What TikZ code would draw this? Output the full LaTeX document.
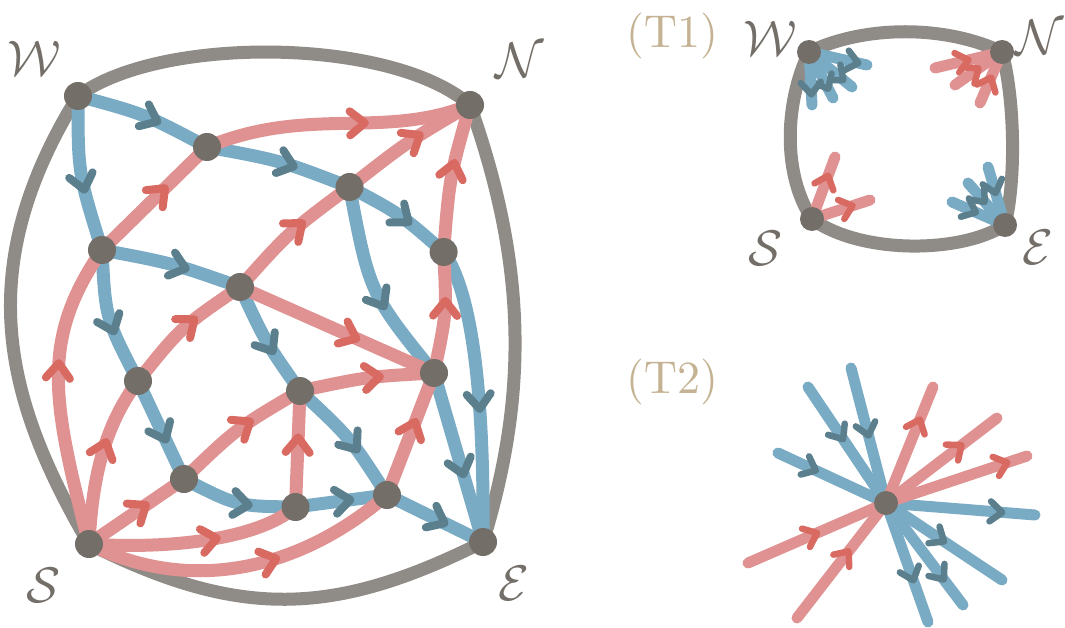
\RequirePackage{fix-cm}
\documentclass[tikz,border=0pt]{standalone}
\usetikzlibrary{decorations.markings}
\definecolor{bluec}{HTML}{7AABC5}
\definecolor{bluedk}{HTML}{5B7F8C}
\definecolor{redc}{HTML}{E09292}
\definecolor{reddk}{HTML}{D86A62}
\definecolor{bndc}{HTML}{8F8B86}
\definecolor{nodec}{HTML}{736E68}
\definecolor{tanc}{HTML}{C4B292}
\font\Tfont=cmr10 at 46pt
\pgfdeclarelayer{edges}
\pgfsetlayers{edges,main}
\tikzset{
  vtx/.style={circle, fill=nodec, draw=none, inner sep=0pt, minimum size=28pt},
  svtx/.style={vtx, minimum size=24pt},
  bnd/.style={draw=bndc, line width=13pt},
  lbl/.style={text=nodec, inner sep=0pt, font=\fontsize{50}{50}\selectfont},
  tlbl/.style={text=tanc, inner sep=0pt, font=\Tfont},
  bedge/.style={draw=bluec, line width=13pt, line cap=round,
    postaction={decorate, decoration={markings, mark=at position #1 with {\draw[bluedk, line width=8pt, line cap=round, line join=round] (-15,12) -- (0,0) -- (-15,-12);}}}},
  bedge/.default=0.6,
  redge/.style={draw=redc, line width=13pt, line cap=round,
    postaction={decorate, decoration={markings, mark=at position #1 with {\draw[reddk, line width=8pt, line cap=round, line join=round] (-15,12) -- (0,0) -- (-15,-12);}}}},
  redge/.default=0.6,
  sbedge/.style={draw=bluec, line width=11pt, line cap=round,
    postaction={decorate, decoration={markings, mark=at position #1 with {\draw[bluedk, line width=6.5pt, line cap=round, line join=round] (-12,10) -- (0,0) -- (-12,-10);}}}},
  sbedge/.default=0.6,
  sredge/.style={draw=redc, line width=11pt, line cap=round,
    postaction={decorate, decoration={markings, mark=at position #1 with {\draw[reddk, line width=6.5pt, line cap=round, line join=round] (-12,10) -- (0,0) -- (-12,-10);}}}},
  sredge/.default=0.6,
}
\begin{document}
\begin{tikzpicture}[x=1pt,y=-1pt]
\useasboundingbox (0,0) rectangle (1065,628);
% ---------- main graph: vertices ----------
\node[vtx] (W) at (78,96) {};
\node[vtx] (N) at (470,105) {};
\node[vtx] (S) at (89,544) {};
\node[vtx] (E) at (483,542) {};
\node[vtx] (a) at (207,147) {};
\node[vtx] (b) at (349.5,187) {};
\node[vtx] (c) at (102,250) {};
\node[vtx] (d) at (443.6,252) {};
\node[vtx] (e) at (240,287) {};
\node[vtx] (f) at (434,373) {};
\node[vtx] (g) at (138,381) {};
\node[vtx] (h) at (300,391) {};
\node[vtx] (i) at (184,479) {};
\node[vtx] (j) at (295.5,507) {};
\node[vtx] (k) at (387,495) {};
\node[lbl] (Wl) at (34,58) {$\mathcal{W}$};
\node[lbl] (Nl) at (520,60) {$\mathcal{N}$};
\node[lbl] (Sl) at (44,585) {$\mathcal{S}$};
\node[lbl] (El) at (514,583) {$\mathcal{E}$};
% ---------- T1 ----------
\node[tlbl] (T1l) at (672,36) {(T1)};
\node[svtx] (W1) at (809,52) {};
\node[svtx] (N1) at (1002,52) {};
\node[svtx] (S1) at (812,219) {};
\node[svtx] (E1) at (1005,225) {};
\node[lbl] (W1l) at (770,38) {$\mathcal{W}$};
\node[lbl] (N1l) at (1040,37) {$\mathcal{N}$};
\node[lbl] (S1l) at (766,248) {$\mathcal{S}$};
\node[lbl] (E1l) at (1038,247) {$\mathcal{E}$};
\coordinate (w1a) at (867,65);
\coordinate (w1b) at (852,87);
\coordinate (w1c) at (833,98);
\coordinate (w1d) at (812,105);
\coordinate (n1a) at (935,68);
\coordinate (n1b) at (955,85);
\coordinate (n1c) at (980,103);
\coordinate (s1a) at (835,157);
\coordinate (s1b) at (870,200);
\coordinate (e1a) at (988,167);
\coordinate (e1b) at (968,183);
\coordinate (e1c) at (952,202);
% ---------- T2 ----------
\node[tlbl] (T2l) at (672,382) {(T2)};
\node[svtx] (C) at (886,503) {};
\coordinate (tb1) at (808,387);
\coordinate (tb2) at (851,368);
\coordinate (tb3) at (778,453);
\coordinate (tb4) at (1035,515);
\coordinate (tb5) at (1002,580);
\coordinate (tb6) at (963,605);
\coordinate (tb7) at (928,622);
\coordinate (tr1) at (933,387);
\coordinate (tr2) at (997,418);
\coordinate (tr3) at (1027,456);
\coordinate (tr4) at (748,563);
\coordinate (tr5) at (797,618);
\begin{pgfonlayer}{edges}
% boundary
\draw[bnd] (W.center) .. controls (160,35) and (392,37) .. (N.center);
\draw[bnd] (W.center) .. controls (-30,270) and (5,400) .. (S.center);
\draw[bnd] (N.center) .. controls (525,260) and (530,390) .. (E.center);
\draw[bnd] (S.center) .. controls (239,619) and (333,617) .. (E.center);
% blue
\draw[bedge] (W.center) .. controls (145.2,114.2) .. (a.center);
\draw[bedge] (W.center) .. controls (78,173) .. (c.center);
\draw[bedge] (a.center) .. controls (280,160.3) .. (b.center);
\draw[bedge] (b.center) .. controls (400.5,214.2) .. (d.center);
\draw[bedge] (b.center) .. controls (369.5,293) .. (f.center);
\draw[bedge] (c.center) .. controls (172.3,263.2) .. (e.center);
\draw[bedge] (c.center) .. controls (105.4,318.2) .. (g.center);
\draw[bedge] (e.center) .. controls (265.3,341.7) .. (h.center);
\draw[bedge] (g.center) -- (i.center);
\draw[bedge] (i.center) .. controls (237.5,506.3) .. (j.center);
\draw[bedge] (j.center) -- (k.center);
\draw[bedge] (k.center) -- (E.center);
\draw[bedge=0.55] (d.center) .. controls (478,300) and (484,430) .. (E.center);
\draw[bedge] (f.center) -- (E.center);
\draw[bedge] (h.center) .. controls (350.2,437.7) .. (k.center);
% red
\draw[redge=0.6] (S.center) .. controls (52,400) and (40,340) .. (c.center);
\draw[redge] (S.center) .. controls (92,484) and (102,429) .. (g.center);
\draw[redge] (S.center) -- (i.center);
\draw[redge] (S.center) .. controls (159,549) and (255,542) .. (j.center);
\draw[redge] (S.center) .. controls (190,595) and (300,570) .. (k.center);
\draw[redge] (c.center) -- (a.center);
\draw[redge] (a.center) .. controls (309,105) and (383,140) .. (N.center);
\draw[redge] (g.center) .. controls (181,327.3) .. (e.center);
\draw[redge] (e.center) .. controls (289.4,231.7) .. (b.center);
\draw[redge] (b.center) .. controls (407,142) .. (N.center);
\draw[redge] (e.center) -- (f.center);
\draw[redge] (i.center) .. controls (236.7,428.3) .. (h.center);
\draw[redge] (h.center) .. controls (367,376.7) .. (f.center);
\draw[redge] (j.center) -- (h.center);
\draw[redge] (k.center) -- (f.center);
\draw[redge] (f.center) .. controls (446.8,312.5) .. (d.center);
\draw[redge] (d.center) .. controls (449.5,177.2) .. (N.center);
% T1 boundary
\draw[bnd] (W1.center) .. controls (865,25) and (945,25) .. (N1.center);
\draw[bnd] (W1.center) .. controls (784,105) and (783,175) .. (S1.center);
\draw[bnd] (N1.center) .. controls (1015,100) and (1016,180) .. (E1.center);
\draw[bnd] (S1.center) .. controls (860,254) and (960,254) .. (E1.center);
% T1 stubs
\draw[sbedge=0.85] (W1.center) -- (w1a);
\draw[sbedge=0.8] (W1.center) -- (w1b);
\draw[sbedge=0.8] (W1.center) -- (w1c);
\draw[sbedge=0.8] (W1.center) -- (w1d);
\draw[sredge=0.5] (n1a) -- (N1.center);
\draw[sredge=0.5] (n1b) -- (N1.center);
\draw[sredge=0.5] (n1c) -- (N1.center);
\draw[sredge=0.7] (S1.center) -- (s1a);
\draw[sredge=0.7] (S1.center) -- (s1b);
\draw[sbedge=0.45] (e1a) -- (E1.center);
\draw[sbedge=0.45] (e1b) -- (E1.center);
\draw[sbedge=0.45] (e1c) -- (E1.center);
% T2 edges
\draw[sbedge=0.45] (tb1) -- (C.center);
\draw[sbedge=0.5] (tb2) -- (C.center);
\draw[sbedge=0.35] (tb3) -- (C.center);
\draw[sbedge=0.78] (C.center) -- (tb4);
\draw[sbedge=0.5] (C.center) -- (tb5);
\draw[sbedge=0.75] (C.center) -- (tb6);
\draw[sbedge=0.65] (C.center) -- (tb7);
\draw[sredge=0.72] (C.center) -- (tr1);
\draw[sredge=0.68] (C.center) -- (tr2);
\draw[sredge=0.86] (C.center) -- (tr3);
\draw[sredge=0.5] (tr4) -- (C.center);
\draw[sredge=0.58] (tr5) -- (C.center);
\end{pgfonlayer}
\end{tikzpicture}
\end{document}
